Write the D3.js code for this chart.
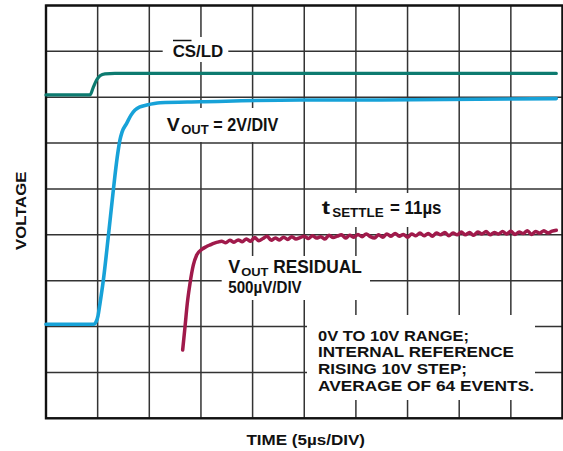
<!DOCTYPE html>
<html>
<head>
<meta charset="utf-8">
<script src="https://cdn.jsdelivr.net/npm/d3@7/dist/d3.min.js"></script>
<style>
  html, body { margin: 0; padding: 0; background: #fff; }
  svg { display: block; }
  text { font-family: "Liberation Sans", Arial, Helvetica, sans-serif; font-weight: bold; fill: #111; }
</style>
</head>
<body>
<svg id="chart" width="563" height="451"></svg>
<script>
// ---- Data (time in µs, 5 µs/div; voltage in screen divisions from bottom) ----
const xGridDivs = [0, 5, 10, 15, 20, 25, 30, 35, 40, 45, 50];
const yGridDivs = [0, 1, 2, 3, 4, 5, 6, 7, 8, 9];

// CS/LD (teal)
const csT = [0, 4.26, 4.55, 4.91, 5.23, 5.71, 6.68, 49.4];
const csV = [7.05, 7.05, 7.20, 7.38, 7.47, 7.51, 7.52, 7.52];

// VOUT = 2V/DIV (blue)
const voutT = [0, 4.65, 4.84, 5.03, 5.23, 5.55, 6.03, 6.52, 6.90, 7.16, 7.36, 7.81, 8.23, 8.62, 9.10, 9.75, 11.04, 14.9, 24.6, 32.3, 49.4];
const voutV = [2.05, 2.05, 2.10, 2.23, 2.51, 3.01, 3.96, 4.98, 5.70, 6.07, 6.24, 6.43, 6.61, 6.72, 6.79, 6.83, 6.88, 6.90, 6.94, 6.94, 6.97];

// VOUT residual 500µV/DIV (crimson)
const resT = [13.23, 13.46, 13.68, 13.94, 14.26, 14.59, 15.07, 15.5, 15.88, 16.3, 16.6,
  17.0, 17.4, 17.8, 18.2, 18.6, 19.0, 19.4, 19.8, 20.2, 20.6, 21.0, 21.4, 21.8, 22.2, 22.6,
  23.0, 23.4, 23.8, 24.2, 24.6, 25.0, 25.4, 25.8, 26.2, 26.6, 27.0, 27.4, 27.8, 28.2, 28.6,
  29.0, 29.4, 29.8, 30.2, 30.6, 31.0, 31.4, 31.8, 32.2, 32.6, 33.0, 33.4, 33.8, 34.2, 34.6,
  35.0, 35.4, 35.8, 36.2, 36.6, 37.0, 37.4, 37.8, 38.2, 38.6, 39.0, 39.4, 39.8, 40.2, 40.6,
  41.0, 41.4, 41.8, 42.2, 42.6, 43.0, 43.4, 43.8, 44.2, 44.6, 45.0, 45.4, 45.8, 46.2, 46.6,
  47.0, 47.4, 47.8, 48.2, 48.6, 49.0, 49.4];
const resV = [1.49, 2.00, 2.51, 2.94, 3.34, 3.56, 3.68, 3.74, 3.78, 3.82, 3.84,
  3.86, 3.83, 3.88, 3.84, 3.89, 3.85, 3.91, 3.86, 3.94, 3.87, 3.92, 3.97, 3.88, 3.93, 3.89,
  3.95, 3.90, 3.96, 3.91, 3.94, 3.97, 3.92, 3.98, 3.93, 3.96, 3.91, 3.99, 3.94, 3.97, 4.00,
  3.93, 3.99, 3.95, 4.01, 3.96, 4.02, 3.96, 3.93, 4.00, 3.95, 4.02, 3.97, 4.03, 3.97, 4.01,
  3.95, 4.02, 3.98, 4.04, 3.98, 4.03, 3.97, 4.04, 4.00, 4.05, 3.98, 4.04, 4.00, 4.06, 4.00,
  4.05, 3.99, 4.06, 4.02, 4.07, 4.00, 4.05, 4.02, 4.07, 4.02, 4.08, 4.01, 4.06, 4.03, 4.09,
  4.01, 4.07, 4.04, 4.09, 4.04, 4.08, 4.10];

// ---- Layout ----
const svg = d3.select("#chart");
const x = d3.scaleLinear().domain([0, 50]).range([46, 562.5]);
const y = d3.scaleLinear().domain([0, 9]).range([418.3, 5.5]);

// grid
const grid = svg.append("g");
grid.selectAll("line.v").data(xGridDivs).join("line")
  .attr("x1", d => x(d)).attr("x2", d => x(d))
  .attr("y1", y(0)).attr("y2", y(9))
  .attr("stroke", "#333").attr("stroke-width", 1.5);
grid.selectAll("line.h").data(yGridDivs).join("line")
  .attr("y1", d => y(d)).attr("y2", d => y(d))
  .attr("x1", x(0)).attr("x2", x(50))
  .attr("stroke", "#333").attr("stroke-width", 1.5);

// white label boxes that interrupt the grid
const boxes = [
  [162.7, 37, 228.3, 62],
  [160, 108, 285, 142],
  [315, 193, 448, 227],
  [221.7, 256, 370, 300],
  [307, 315, 535, 400]
];
svg.append("g").selectAll("rect").data(boxes).join("rect")
  .attr("x", d => d[0]).attr("y", d => d[1])
  .attr("width", d => d[2] - d[0]).attr("height", d => d[3] - d[1])
  .attr("fill", "#fff");

// frame
svg.append("rect")
  .attr("x", x(0)).attr("y", y(9))
  .attr("width", x(50) - x(0)).attr("height", y(0) - y(9))
  .attr("fill", "none").attr("stroke", "#111").attr("stroke-width", 2.4);

// traces
function trace(ts, vs, color, w, curve) {
  const pts = ts.map((t, i) => [t, vs[i]]);
  svg.append("path")
    .attr("d", d3.line().x(d => x(d[0])).y(d => y(d[1])).curve(curve)(pts))
    .attr("fill", "none").attr("stroke", color).attr("stroke-width", w)
    .attr("stroke-linejoin", "round").attr("stroke-linecap", "round");
}
trace(csT, csV, "#0d7b70", 3.2, d3.curveMonotoneX);
trace(voutT, voutV, "#17a2d8", 3.6, d3.curveMonotoneX);
trace(resT, resV, "#a01a4b", 3.5, d3.curveMonotoneX);

// text helper
function label(str, px, py, size, len, opts) {
  const t = svg.append("text").attr("x", px).attr("y", py)
    .attr("font-size", size).text(str);
  if (len) t.attr("textLength", len).attr("lengthAdjust", "spacingAndGlyphs");
  if (opts && opts.rotate) t.attr("transform", `rotate(-90 ${px} ${py})`);
  return t;
}

// CS/LD
label("CS/LD", 172.7, 56.5, 16.5, 50.6);
svg.append("line").attr("x1", 173).attr("x2", 191.5).attr("y1", 40.5).attr("y2", 40.5)
  .attr("stroke", "#111").attr("stroke-width", 1.5);

// VOUT = 2V/DIV
label("V", 166.7, 131, 18, 13);
label("OUT", 181.2, 134, 13, 27.5);
label("= 2V/DIV", 213.3, 131, 17.5, 65);

// tSETTLE = 11µs
label("t", 321.7, 213.5, 17.5, 8.3);
label("SETTLE", 332.2, 216.7, 12.5, 51.5);
label("= 11µs", 390.1, 213.5, 17.5, 51.4);

// VOUT RESIDUAL 500µV/DIV
label("V", 228.3, 273.3, 17.5, 12);
label("OUT", 241.2, 275.6, 11.5, 27.3);
label("RESIDUAL", 273.3, 273.3, 17.5, 88.4);
label("500µV/DIV", 228.3, 293, 16, 73.4);

// note
const noteLines = ["0V TO 10V RANGE;", "INTERNAL REFERENCE", "RISING 10V STEP;", "AVERAGE OF 64 EVENTS."];
const noteLens = [151, 196, 149, 216];
noteLines.forEach((s, i) => label(s, 318, 340.5 + i * 16.9, 15.5, noteLens[i]));

// axis titles
label("TIME (5µs/DIV)", 246.4, 445, 15.5, 118.6);
label("VOLTAGE", 25.5, 250, 15.5, 78.3, { rotate: true });
</script>
</body>
</html>
